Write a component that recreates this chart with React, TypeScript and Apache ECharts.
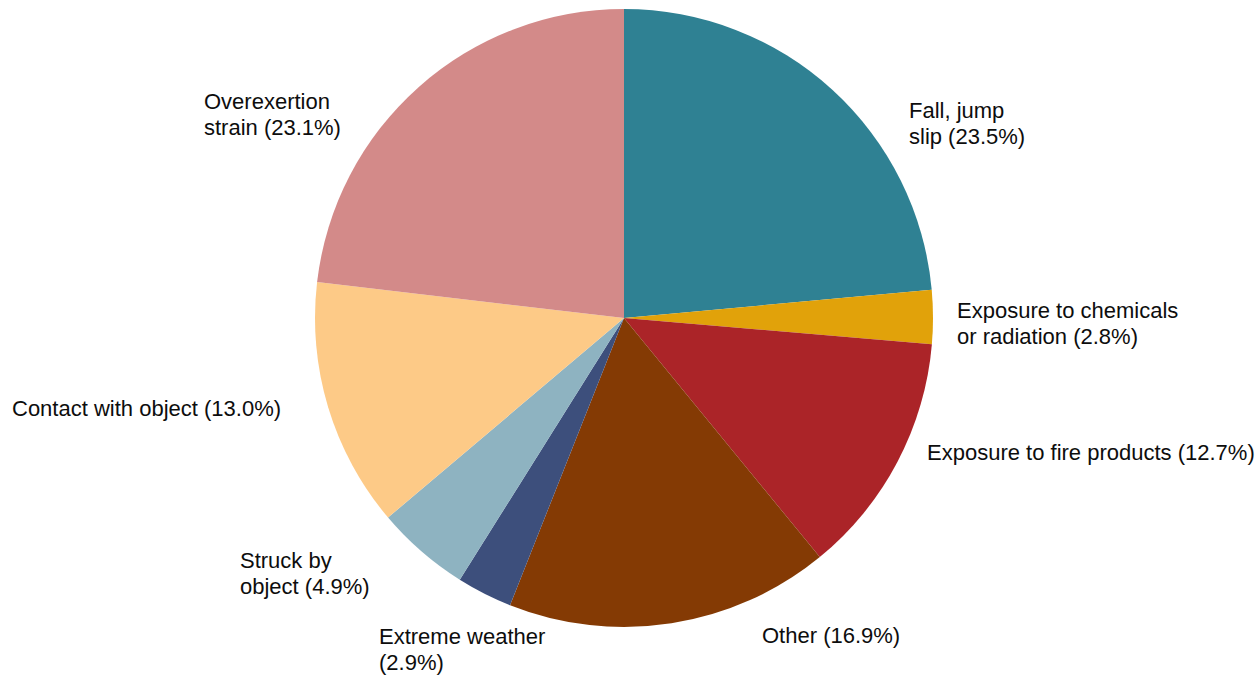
import React, { useEffect, useRef } from "react";
import * as echarts from "echarts";

const CATEGORIES = [
  "Fall, jump\nslip",
  "Exposure to chemicals\nor radiation",
  "Exposure to fire products",
  "Other",
  "Extreme weather\n",
  "Struck by\nobject",
  "Contact with object",
  "Overexertion\nstrain",
];
const VALUES = [23.5, 2.8, 12.7, 16.9, 2.9, 4.9, 13.0, 23.1];
const COLORS = [
  "#2F8193",
  "#E1A20A",
  "#AB2428",
  "#843A04",
  "#3D4F7C",
  "#8EB3C1",
  "#FDCA87",
  "#D38A89",
];
// label block top-left anchors (text placement only)
const LABEL_X = [909, 957, 927, 762, 379, 240, 12, 204];
const LABEL_Y = [97, 297, 439, 622, 623, 547, 395, 88];

export default function App() {
  const ref = useRef<HTMLDivElement>(null);
  useEffect(() => {
    if (!ref.current) return;
    const chart = echarts.init(ref.current, null, { renderer: "svg" });
    chart.setOption({
      animation: false,
      backgroundColor: "#ffffff",
      series: [
        {
          type: "pie",
          center: [624, 318],
          radius: 309,
          startAngle: 90,
          clockwise: true,
          avoidLabelOverlap: false,
          silent: true,
          itemStyle: { borderWidth: 0 },
          labelLine: { show: false },
          label: {
            show: true,
            position: "outside",
            color: "#0d0d0d",
            fontFamily: "Liberation Sans, Arial, sans-serif",
            fontSize: 22,
            lineHeight: 26,
            formatter: (p: any) =>
              (p.name + " (" + Number(p.value).toFixed(1) + "%)").replace("\n ", "\n"),
          },
          labelLayout: (p: any) => ({
            x: LABEL_X[p.dataIndex],
            y: LABEL_Y[p.dataIndex],
            align: "left",
            verticalAlign: "top",
          }),
          data: CATEGORIES.map((c, i) => ({
            name: c,
            value: VALUES[i],
            itemStyle: { color: COLORS[i] },
          })),
        },
      ],
    });
    return () => chart.dispose();
  }, []);
  return (
    <div
      ref={ref}
      style={{ position: "absolute", left: 0, top: 0, width: 1260, height: 679 }}
    />
  );
}
